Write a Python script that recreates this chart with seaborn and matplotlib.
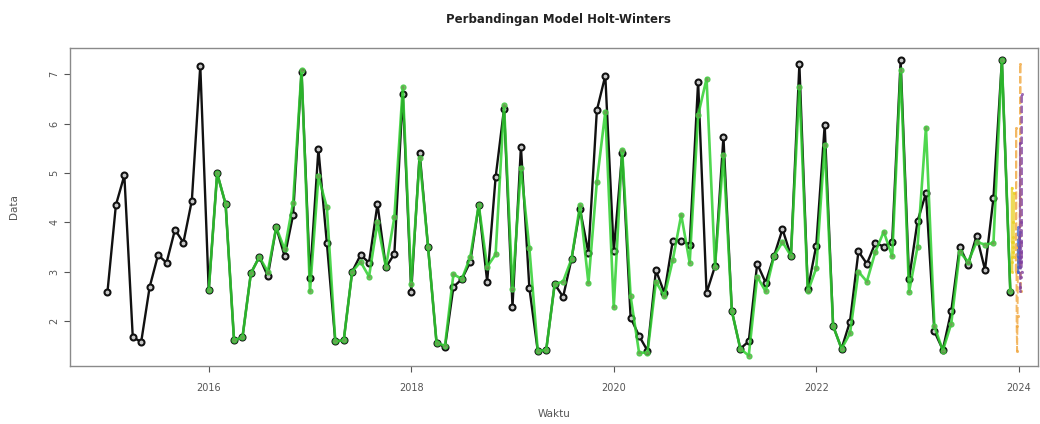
import numpy as np
import pandas as pd
import seaborn as sns
import matplotlib
matplotlib.use("Agg")
import matplotlib.pyplot as plt

sns.set_theme(style="white")
plt.rcParams['font.family'] = ['DejaVu Sans']

# monthly observed data, Jan 2015 .. Dec 2023
data_2015 = [2.59, 4.35, 4.95, 1.67, 1.58, 2.69, 3.34, 3.18, 3.85, 3.59, 4.44, 7.17]
data_2016 = [2.62, 4.99, 4.37, 1.61, 1.67, 2.97, 3.30, 2.91, 3.90, 3.31, 4.15, 7.05]
data_2017 = [2.88, 5.48, 3.58, 1.59, 1.61, 3.00, 3.34, 3.18, 4.37, 3.09, 3.36, 6.60]
data_2018 = [2.59, 5.40, 3.49, 1.56, 1.47, 2.69, 2.85, 3.20, 4.35, 2.80, 4.91, 6.30]
data_2019 = [2.29, 5.53, 2.67, 1.39, 1.42, 2.75, 2.49, 3.26, 4.27, 3.38, 6.27, 6.97]
data_2020 = [3.41, 5.40, 2.07, 1.70, 1.40, 3.03, 2.57, 3.63, 3.63, 3.55, 6.85, 2.57]
data_2021 = [3.11, 5.73, 2.20, 1.44, 1.59, 3.16, 2.78, 3.32, 3.86, 3.32, 7.20, 2.64]
data_2022 = [3.53, 5.97, 1.90, 1.44, 1.99, 3.41, 3.16, 3.58, 3.51, 3.61, 7.28, 2.85]
data_2023 = [4.02, 4.59, 1.79, 1.42, 2.20, 3.51, 3.14, 3.73, 3.04, 4.49, 7.28, 2.59]

# Holt-Winters fitted values, Jan 2016 .. Dec 2023
fit_2016 = [2.62, 4.99, 4.37, 1.61, 1.67, 2.97, 3.30, 3.00, 3.90, 3.45, 4.40, 7.08]
fit_2017 = [2.60, 4.93, 4.30, 1.59, 1.61, 3.00, 3.20, 2.90, 4.00, 3.09, 4.10, 6.74]
fit_2018 = [2.75, 5.30, 3.49, 1.56, 1.50, 2.95, 2.85, 3.30, 4.35, 3.10, 3.35, 6.37]
fit_2019 = [2.65, 5.10, 3.48, 1.39, 1.42, 2.75, 2.80, 3.26, 4.35, 2.77, 4.82, 6.24]
fit_2020 = [2.28, 5.46, 2.50, 1.36, 1.36, 2.80, 2.50, 3.24, 4.15, 3.18, 6.17, 6.91]
fit_2021 = [3.10, 5.36, 2.20, 1.44, 1.30, 2.90, 2.60, 3.32, 3.60, 3.32, 6.74, 2.60]
fit_2022 = [3.07, 5.57, 1.90, 1.44, 1.75, 3.00, 2.80, 3.40, 3.81, 3.31, 7.08, 2.59]
fit_2023 = [3.50, 5.92, 1.90, 1.40, 1.95, 3.40, 3.20, 3.60, 3.55, 3.58, 7.28, 2.60]

# forecasts (squeezed at the end of the series)
fc_yellow = [3.6, 4.7, 3.2, 3.0, 3.3, 3.6, 3.5, 3.7, 3.4, 4.0, 4.6, 3.3]
fc_blue = [3.3, 3.9, 3.0, 3.0, 3.1, 3.4, 3.3, 3.5, 3.2, 3.6, 3.8, 3.1]
fc_orange = [3.0, 5.9, 1.9, 1.4, 2.1, 3.5, 3.2, 3.7, 3.1, 4.5, 7.2, 2.6]
fc_purple = [3.2, 5.6, 2.7, 2.6, 2.9, 3.4, 3.3, 3.6, 3.2, 4.0, 6.6, 3.0]

observed = data_2015 + data_2016 + data_2017 + data_2018 + data_2019 + data_2020 + data_2021 + data_2022 + data_2023
fitted = fit_2016 + fit_2017 + fit_2018 + fit_2019 + fit_2020 + fit_2021 + fit_2022 + fit_2023

df_obs = pd.DataFrame({"Waktu": 2015 + np.arange(len(observed)) / 12, "Data": observed})
df_fit = pd.DataFrame({"Waktu": 2016 + np.arange(len(fitted)) / 12, "Data": fitted})

fig = plt.figure(figsize=(10.4, 4.24), dpi=100)
ax = fig.add_axes([70 / 1040, 58 / 424, 968 / 1040, 318 / 424])

sns.lineplot(data=df_obs, x="Waktu", y="Data", ax=ax, color="#111111", lw=1.7,
             marker="o", markersize=4.3, markerfacecolor="#c8c8c8",
             markeredgecolor="#111111", markeredgewidth=1.5, zorder=2)
sns.lineplot(data=df_fit, x="Waktu", y="Data", ax=ax, color="#30d030", lw=1.9, alpha=0.85,
             marker="o", markersize=3.6, markerfacecolor="#6aa050",
             markeredgecolor="#40d040", markeredgewidth=0.9, zorder=3)

fc_list = [(fc_yellow, 2023.93, 2023.95, "#e8d020", "-"),
           (fc_orange, 2023.97, 2024.02, "#f0a030", "--"),
           (fc_blue, 2023.99, 2024.01, "#4060d0", "--"),
           (fc_purple, 2024.01, 2024.03, "#8040a0", "--")]
for vals, t0, t1, col, ls in fc_list:
    dff = pd.DataFrame({"Waktu": np.linspace(t0, t1, len(vals)), "Data": vals})
    sns.lineplot(data=dff, x="Waktu", y="Data", ax=ax, color=col, lw=1.4,
                 linestyle=ls, marker="o", markersize=2.2, markeredgewidth=0,
                 alpha=0.75, zorder=4)

ax.set_xlim(2014.63, 2024.19)
ax.set_ylim(1.09, 7.53)
ax.set_xticks([2016, 2018, 2020, 2022, 2024])
ax.set_yticks([2, 3, 4, 5, 6, 7])
ax.tick_params(axis="both", labelsize=7, colors="#555555", length=4, width=0.8,
               direction="out", left=True, bottom=True)
ax.tick_params(axis="x", pad=8)
for lab in ax.get_yticklabels():
    lab.set_rotation(90)
    lab.set_va("center")
for s in ax.spines.values():
    s.set_color("#8a8a8a")
    s.set_linewidth(1.0)

ax.set_xlabel("Waktu", fontsize=7.5, color="#555555", labelpad=12)
ax.set_ylabel("Data", fontsize=7.5, color="#555555", labelpad=22)
fig.text(0.537, 0.955, "Perbandingan Model Holt-Winters", ha="center", va="center",
         fontsize=8.5, fontweight="bold", color="#222222")

fig.savefig("out.png", dpi=100)
